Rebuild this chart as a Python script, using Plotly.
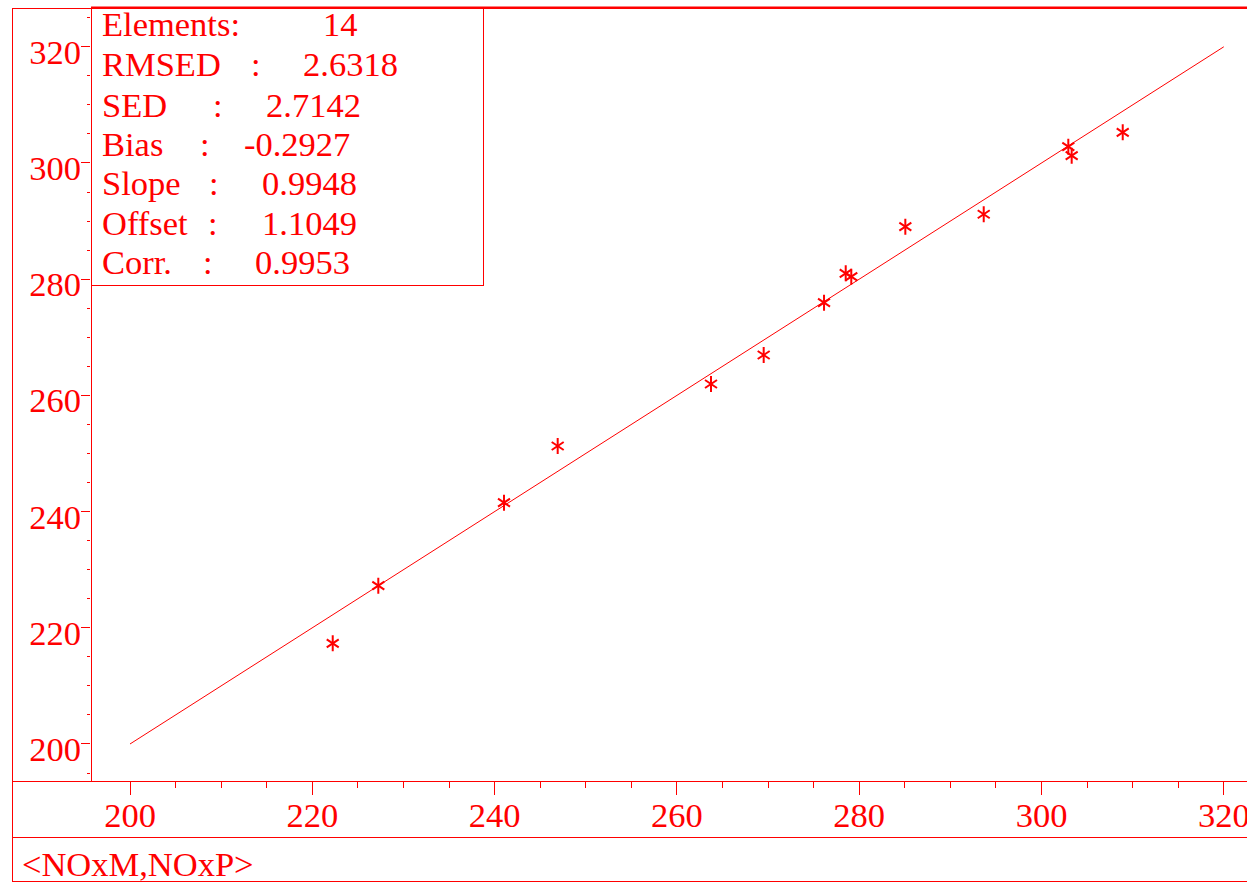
import plotly.graph_objects as go

# Measured vs predicted NOx values
nox_m = [222.24, 227.24, 241.03, 246.92, 263.74, 269.52, 276.14, 278.52,
         279.13, 285.06, 293.66, 302.94, 303.31, 308.91]
nox_p = [217.33, 227.25, 241.53, 251.29, 261.96, 266.95, 275.96, 281.01,
         280.43, 289.04, 291.17, 302.81, 301.26, 305.28]

# 1:1 reference line endpoints
diag = [200, 320]

# Statistics panel
stat_names = ["Elements:", "RMSED", "SED", "Bias", "Slope", "Offset", "Corr."]
stat_values = ["14", "2.6318", "2.7142", "-0.2927", "0.9948", "1.1049", "0.9953"]

RED = "#ff0000"
FONT = "Liberation Serif, Times New Roman, serif"
FS = 34.5

W, H = 1247, 883
L, R, T, B = 91, 0, 8, 102
PW, PH = W - L - R, H - T - B


def px(x):
    return (x - L) / PW


def py(y):
    return (H - B - y) / PH


fig = go.Figure()

fig.add_trace(go.Scatter(x=diag, y=diag, mode="lines",
                         line=dict(color=RED, width=1), hoverinfo="skip"))
for sym in ["y-up-open", "y-down-open"]:
    fig.add_trace(go.Scatter(
        x=nox_m, y=nox_p, mode="markers",
        marker=dict(symbol=sym, size=10, color=RED,
                    line=dict(color=RED, width=2)),
    ))

shapes = []


def hline(x0, x1, y, w=1):
    shapes.append(dict(type="line", xref="paper", yref="paper",
                       x0=px(x0), x1=px(x1), y0=py(y), y1=py(y),
                       line=dict(color=RED, width=w)))


def vline(x, y0, y1, w=1):
    shapes.append(dict(type="line", xref="paper", yref="paper",
                       x0=px(x), x1=px(x), y0=py(y0), y1=py(y1),
                       line=dict(color=RED, width=w)))


# outer frame and bands
vline(12.5, 8, 881.5)
hline(12, 1247, 8.5)
hline(91, 1247, 7.5, 2)
hline(12, 1247, 781.5)
hline(12, 1247, 837.5)
hline(12, 1247, 881.5)
vline(91.5, 8, 781.5)
# statistics box
vline(483.5, 8, 285.5)
hline(91, 484, 285.5)

annotations = []


def text(s, x, baseline):
    # centre of the text box sits ~0.34em above the baseline
    annotations.append(dict(text=s, xref="paper", yref="paper",
                            x=px(x), y=py(baseline - 0.3375 * FS),
                            xanchor="left", yanchor="middle", showarrow=False,
                            borderpad=0, borderwidth=0,
                            font=dict(family=FONT, size=FS, color=RED)))


baselines = [36, 76, 116.5, 155.5, 195, 235, 274]
colon_x = [None, 251, 213, 200, 209, 208, 203]
value_x = [323, 302.5, 265.5, 244, 261.5, 261.5, 255]
for i, name in enumerate(stat_names):
    text(name, 101.5, baselines[i])
    if colon_x[i] is not None:
        text(":", colon_x[i], baselines[i])
    text(stat_values[i], value_x[i], baselines[i])

text("<NOxM,NOxP>", 21.5, 875.5)

fig.update_layout(
    width=W, height=H,
    margin=dict(l=L, r=R, t=T, b=B, pad=0, autoexpand=False),
    paper_bgcolor="white", plot_bgcolor="white",
    showlegend=False,
    shapes=shapes,
    annotations=annotations,
    font=dict(family=FONT, size=FS, color=RED),
    xaxis=dict(
        range=[195.72, 195.72 + PW / 9.115], automargin=False,
        tick0=200, dtick=20, ticks="outside", ticklen=13, tickwidth=1,
        tickcolor=RED, showgrid=False, zeroline=False, showline=False,
        tickfont=dict(family=FONT, size=FS, color=RED),
        ticklabeloverflow="allow", ticklabelstandoff=-9,
        minor=dict(dtick=5, ticks="outside", ticklen=6, tickcolor=RED,
                   showgrid=False),
    ),
    yaxis=dict(
        range=[193.63, 193.63 + PH / 5.81], automargin=False,
        tick0=200, dtick=20, ticks="outside", ticklen=9, tickwidth=1,
        tickcolor=RED, showgrid=False, zeroline=False, showline=False,
        tickfont=dict(family=FONT, size=FS, color=RED),
        ticklabelstandoff=-7, ticklabelshift=5,
        minor=dict(dtick=5, ticks="outside", ticklen=3, tickcolor=RED,
                   showgrid=False),
    ),
)

# the last x tick label runs past the right edge: clip it at the figure border
clip_js = """
var gd = document.getElementById('{plot_id}');
gd.style.overflow = 'hidden';
document.documentElement.style.overflow = 'hidden';
document.body.style.overflow = 'hidden';
document.body.style.margin = '0';
"""
fig.write_html("out.html", post_script=clip_js)
